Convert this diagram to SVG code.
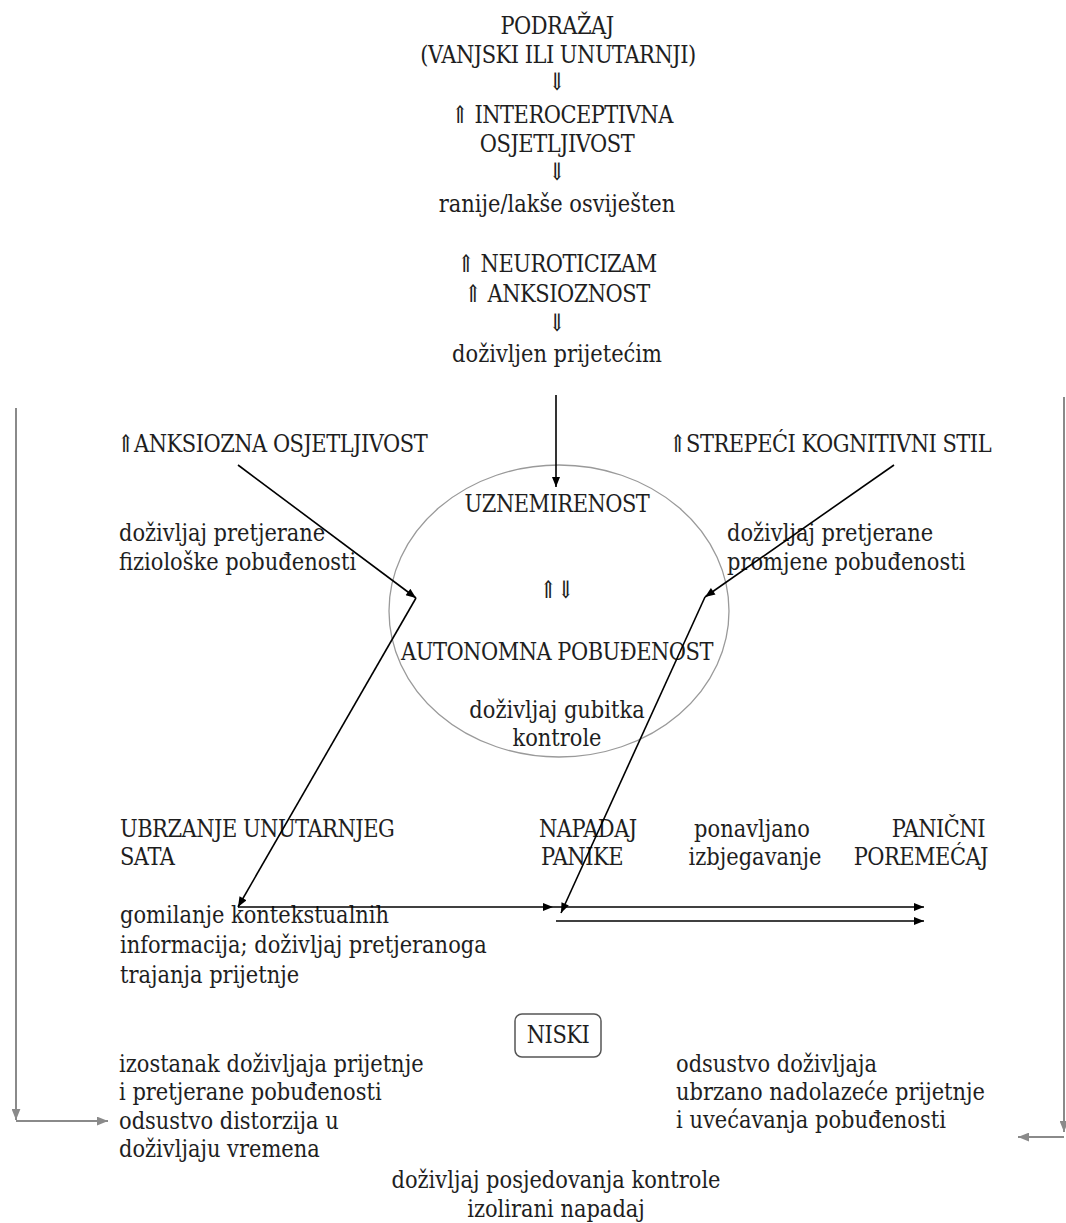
<svg xmlns="http://www.w3.org/2000/svg" width="1066" height="1223" viewBox="0 0 1066 1223">
<style>
text{font-family:"DejaVu Serif","Liberation Serif",serif;font-size:21px;fill:#1e1e1e}
.c{text-anchor:middle}
.r{text-anchor:end}
.u{letter-spacing:-0.5px}
.k{stroke:#000;stroke-width:1.6;fill:none}
.g{stroke:#8a8a8a;stroke-width:2;fill:none}
</style>
<defs>
<marker id="ah" viewBox="0 0 10 8" refX="10" refY="4" markerWidth="11" markerHeight="8" markerUnits="userSpaceOnUse" orient="auto"><path d="M0,0 L10,4 L0,8 Z" fill="#000"/></marker>
<marker id="ag" viewBox="0 0 10 8" refX="10" refY="4" markerWidth="11" markerHeight="9" markerUnits="userSpaceOnUse" orient="auto"><path d="M0,0 L10,4 L0,8 Z" fill="#8a8a8a"/></marker>
</defs>
<rect width="1066" height="1223" fill="#fff"/>
<g id="top">
<text class="c u" transform="translate(557,34) scale(1,1.15)">PODRAŽAJ</text>
<text class="c u" transform="translate(558,63) scale(1,1.15)">(VANJSKI ILI UNUTARNJI)</text>
<text class="c" transform="translate(557,90) scale(1,1.15)">⇓</text>
<text class="c u" transform="translate(562,123) scale(1,1.15)">⇑ INTEROCEPTIVNA</text>
<text class="c u" transform="translate(557,152) scale(1,1.15)">OSJETLJIVOST</text>
<text class="c" transform="translate(557,180) scale(1,1.15)">⇓</text>
<text class="c" transform="translate(557,212) scale(1,1.15)">ranije/lakše osviješten</text>
<text class="c u" transform="translate(557,272) scale(1,1.15)">⇑ NEUROTICIZAM</text>
<text class="c u" transform="translate(557,302) scale(1,1.15)">⇑ ANKSIOZNOST</text>
<text class="c" transform="translate(557,331) scale(1,1.15)">⇓</text>
<text class="c" transform="translate(557,362) scale(1,1.15)">doživljen prijetećim</text>
</g>
<g id="anksiozna">
<text class="u" transform="translate(117,452) scale(1,1.15)">⇑ANKSIOZNA OSJETLJIVOST</text>
<text transform="translate(119,541) scale(1,1.15)">doživljaj pretjerane</text>
<text transform="translate(119,570) scale(1,1.15)">fiziološke pobuđenosti</text>
</g>
<g id="strepeci">
<text class="u" transform="translate(669,452) scale(1,1.15)">⇑STREPEĆI KOGNITIVNI STIL</text>
<text transform="translate(727,541) scale(1,1.15)">doživljaj pretjerane</text>
<text transform="translate(727,570) scale(1,1.15)">promjene pobuđenosti</text>
</g>
<g id="krug">
<ellipse cx="559" cy="611" rx="170" ry="146" fill="none" stroke="#9a9a9a" stroke-width="1.3"/>
<text class="c u" transform="translate(557,512) scale(1,1.15)">UZNEMIRENOST</text>
<text class="c" transform="translate(557,598) scale(1,1.15)">⇑⇓</text>
<text class="c u" transform="translate(557,660) scale(1,1.15)">AUTONOMNA POBUĐENOST</text>
<text class="c" transform="translate(557,718) scale(1,1.15)">doživljaj gubitka</text>
<text class="c" transform="translate(557,746) scale(1,1.15)">kontrole</text>
</g>
<g id="ubrzanje">
<text class="u" transform="translate(120,837) scale(1,1.15)">UBRZANJE UNUTARNJEG</text>
<text class="u" transform="translate(120,865) scale(1,1.15)">SATA</text>
<text transform="translate(120,923) scale(1,1.15)">gomilanje kontekstualnih</text>
<text transform="translate(120,953) scale(1,1.15)">informacija; doživljaj pretjeranoga</text>
<text transform="translate(120,983) scale(1,1.15)">trajanja prijetnje</text>
</g>
<g id="napadaj">
<text class="u" transform="translate(539,837) scale(1,1.15)">NAPADAJ</text>
<text class="u" transform="translate(541,865) scale(1,1.15)">PANIKE</text>
</g>
<g id="izbjegavanje">
<text class="c" transform="translate(752,837) scale(1,1.15)">ponavljano</text>
<text class="c" transform="translate(755,865) scale(1,1.15)">izbjegavanje</text>
</g>
<g id="panicni">
<text class="r u" transform="translate(985,837) scale(1,1.15)">PANIČNI</text>
<text class="r u" transform="translate(988,865) scale(1,1.15)">POREMEĆAJ</text>
</g>
<g id="niski">
<rect x="515" y="1014" width="86" height="43" rx="7" fill="#fff" stroke="#555" stroke-width="1.5"/>
<text class="c u" transform="translate(558,1043) scale(1,1.15)">NISKI</text>
</g>
<g id="lijevo-dolje">
<text transform="translate(119,1072) scale(1,1.15)">izostanak doživljaja prijetnje</text>
<text transform="translate(119,1100) scale(1,1.15)">i pretjerane pobuđenosti</text>
<text transform="translate(119,1129) scale(1,1.15)">odsustvo distorzija u</text>
<text transform="translate(119,1157) scale(1,1.15)">doživljaju vremena</text>
</g>
<g id="desno-dolje">
<text transform="translate(676,1072) scale(1,1.15)">odsustvo doživljaja</text>
<text transform="translate(676,1100) scale(1,1.15)">ubrzano nadolazeće prijetnje</text>
<text transform="translate(676,1128) scale(1,1.15)">i uvećavanja pobuđenosti</text>
</g>
<g id="izolirani">
<text class="c" transform="translate(556,1188) scale(1,1.15)">doživljaj posjedovanja kontrole</text>
<text class="c" transform="translate(556,1217) scale(1,1.15)">izolirani napadaj</text>
</g>
<g id="connectors">
<line class="k" x1="556" y1="395" x2="556" y2="487" marker-end="url(#ah)"/>
<line class="k" x1="238" y1="465" x2="416" y2="598" marker-end="url(#ah)"/>
<line class="k" x1="416" y1="598" x2="238" y2="907" marker-end="url(#ah)"/>
<line class="k" x1="238" y1="907" x2="553" y2="907" marker-end="url(#ah)"/>
<line class="k" x1="894" y1="465" x2="705" y2="597" marker-end="url(#ah)"/>
<line class="k" x1="705" y1="597" x2="561" y2="913" marker-end="url(#ah)"/>
<line class="k" x1="553" y1="907" x2="924" y2="907" marker-end="url(#ah)"/>
<line class="k" x1="556" y1="921" x2="924" y2="921" marker-end="url(#ah)"/>
<line class="g" x1="16" y1="408" x2="16" y2="1120" marker-end="url(#ag)"/>
<line class="g" x1="16" y1="1121" x2="108" y2="1121" marker-end="url(#ag)"/>
<line class="g" x1="1064" y1="397" x2="1064" y2="1132" marker-end="url(#ag)"/>
<line class="g" x1="1064" y1="1137" x2="1018" y2="1137" marker-end="url(#ag)"/>
</g>
</svg>
